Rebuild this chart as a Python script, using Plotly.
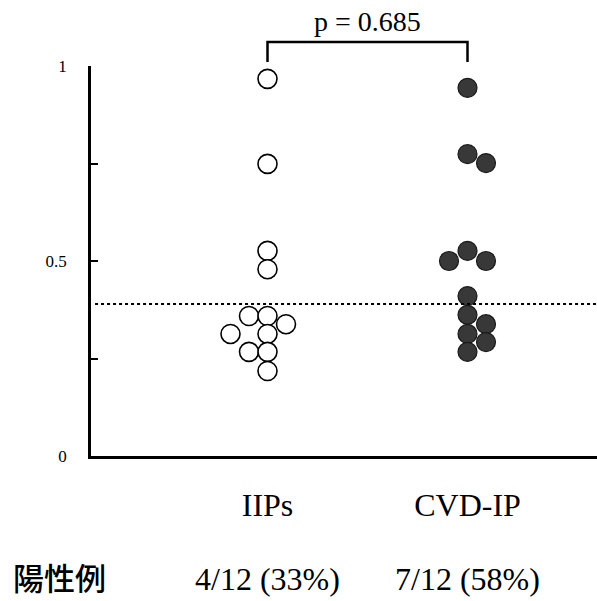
import plotly.graph_objects as go

# ---- data ----
categories = ["IIPs", "CVD-IP"]
iips_values = [0.967, 0.749, 0.526, 0.479, 0.359, 0.359, 0.338, 0.313, 0.313, 0.267, 0.267, 0.218]
iips_slots = [0, 0, 0, 0, -1, 0, 1, -2, 0, -1, 0, 0]
cvd_values = [0.944, 0.774, 0.751, 0.526, 0.500, 0.500, 0.410, 0.362, 0.338, 0.313, 0.292, 0.267]
cvd_slots = [0, 0, 1, 0, -1, 1, 0, 0, 1, 0, 1, 0]
cutoff = 0.39
p_text = "p = 0.685"
positive_label = "陽性例"
positive_text = ["4/12 (33%)", "7/12 (58%)"]
ytick_vals = [0, 0.25, 0.5, 0.75, 1]
ytick_text = ["0", "", "0.5", "", "1"]

SERIF = "Liberation Serif, Times New Roman, serif"
step = 0.0925  # horizontal spacing of stacked dots in x units

cat_pos = [1, 2]
fig = go.Figure()
fig.add_trace(go.Scatter(
    x=[cat_pos[0] + s * step for s in iips_slots], y=iips_values,
    mode="markers", showlegend=False, cliponaxis=False,
    marker=dict(size=19, color="white", line=dict(color="black", width=1.6)),
))
fig.add_trace(go.Scatter(
    x=[cat_pos[1] + s * step for s in cvd_slots], y=cvd_values,
    mode="markers", showlegend=False, cliponaxis=False,
    marker=dict(size=19, color="#383838", line=dict(color="#1a1a1a", width=1.2)),
))

# cutoff dotted line
fig.add_shape(type="line", xref="paper", yref="y", x0=0.008, x1=1, y0=cutoff, y1=cutoff,
              line=dict(color="black", width=2, dash="dot"))

# significance bracket
fig.add_shape(type="path", xref="x", yref="paper",
              path=f"M {cat_pos[0]},1.0103 L {cat_pos[0]},1.0615 L {cat_pos[1]},1.0615 L {cat_pos[1]},1.0103",
              line=dict(color="black", width=2.5))
fig.add_annotation(x=(cat_pos[0] + cat_pos[1]) / 2, xref="x", y=1.113, yref="paper",
                   text=p_text, showarrow=False, xanchor="center", yanchor="middle",
                   font=dict(family=SERIF, size=28, color="black"))

# positive-case row
fig.add_annotation(x=-0.158, xref="paper", y=-0.31, yref="paper", text=positive_label,
                   showarrow=False, xanchor="left", yanchor="middle",
                   font=dict(family="Noto Sans CJK JP", size=31, color="black", weight=500))
for xc, t in zip(cat_pos, positive_text):
    fig.add_annotation(x=xc, xref="x", y=-0.316, yref="paper", text=t, showarrow=False,
                       xanchor="center", yanchor="middle",
                       font=dict(family=SERIF, size=32, color="black"))

fig.update_layout(
    width=597, height=601,
    margin=dict(l=91, r=0, t=66, b=145),
    paper_bgcolor="white", plot_bgcolor="white",
    xaxis=dict(range=[0.1175, 2.6475], tickvals=cat_pos, ticktext=categories,
               showline=True, linecolor="black", linewidth=2.5, showgrid=False, zeroline=False,
               ticks="", ticklabelstandoff=19,
               tickfont=dict(family=SERIF, size=32, color="black")),
    yaxis=dict(range=[0, 1], tickvals=ytick_vals, ticktext=ytick_text,
               showline=True, linecolor="black", linewidth=2.5, showgrid=False, zeroline=False,
               ticks="inside", ticklen=7, tickwidth=2, tickcolor="black",
               ticklabelstandoff=18,
               tickfont=dict(family=SERIF, size=17, color="black")),
)

fig.write_html("out.html")
